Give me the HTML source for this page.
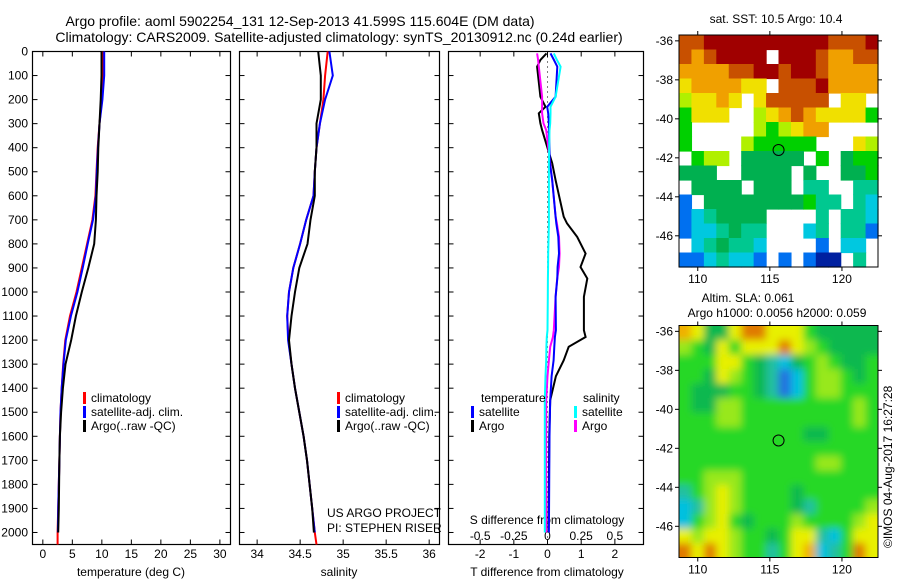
<!DOCTYPE html>
<html><head><meta charset="utf-8"><style>
html,body{margin:0;padding:0;background:#fff;}
svg{display:block;font-family:"Liberation Sans",sans-serif;}
</style></head><body>
<svg id="fig" width="900" height="580" viewBox="0 0 900 580">
<defs>
<filter id="blur" x="-10%" y="-10%" width="120%" height="120%"><feGaussianBlur stdDeviation="4"/></filter>
<clipPath id="slaClip"><rect x="679" y="325.5" width="199" height="232"/></clipPath>
</defs>
<text x="300" y="26" font-size="14" text-anchor="middle">Argo profile: aoml 5902254_131 12-Sep-2013 41.599S 115.604E (DM data)</text>
<text x="339" y="42" font-size="14" text-anchor="middle">Climatology: CARS2009. Satellite-adjusted climatology: synTS_20130912.nc (0.24d earlier)</text>
<text x="776" y="23" font-size="12" text-anchor="middle">sat. SST: 10.5 Argo: 10.4</text>
<text x="748" y="302" font-size="12" text-anchor="middle">Altim. SLA: 0.061</text>
<text x="777" y="317" font-size="12" text-anchor="middle">Argo h1000: 0.0056 h2000: 0.059</text>
<text transform="translate(892,548) rotate(-90)" font-size="12">©IMOS 04-Aug-2017 16:27:28</text>
<text x="327" y="517" font-size="12">US ARGO PROJECT</text>
<text x="327" y="532" font-size="12">PI: STEPHEN RISER</text>
<text x="547" y="524" font-size="12" text-anchor="middle">S difference from climatology</text>
</svg>
<script>
// ---------- data ----------
const depthTicks=[0,100,200,300,400,500,600,700,800,900,1000,1100,1200,1300,1400,1500,1600,1700,1800,1900,2000];
const depthStd=[0,100,200,300,400,500,600,700,800,900,1000,1100,1200,1300,1400,1500,1600,1700,1800,1900,2000,2050];
const tempClim=[10.2,10.2,10.0,9.6,9.3,9.1,8.9,8.4,7.5,6.6,5.7,4.6,3.8,3.45,3.2,3.0,2.9,2.8,2.7,2.6,2.5,2.5];
const tempSat=[10.4,10.4,10.1,9.6,9.35,9.15,9.0,8.5,7.6,6.75,5.85,4.75,3.9,3.5,3.2,3.0,2.9,2.8,2.7,2.6,2.55];
const tempArgo=[9.95,9.95,9.8,9.6,9.4,9.3,9.1,9.0,8.7,7.7,6.6,5.6,4.8,3.85,3.4,3.1,2.9,2.8,2.75,2.7,2.6];
const salClim=[34.82,34.79,34.77,34.73,34.69,34.67,34.655,34.57,34.5,34.42,34.37,34.35,34.365,34.4,34.44,34.49,34.54,34.58,34.61,34.64,34.67,34.69];
const salSat=[34.84,34.88,34.79,34.73,34.69,34.67,34.655,34.57,34.5,34.42,34.37,34.35,34.36,34.4,34.44,34.49,34.54,34.58,34.61,34.64,34.67];
const salArgo=[34.71,34.74,34.74,34.69,34.69,34.67,34.67,34.62,34.585,34.49,34.44,34.40,34.37,34.4,34.44,34.49,34.54,34.58,34.61,34.64,34.66];
const diffDepth=[8,35,63,188,230,257,299,327,465,535,687,715,771,840,896,944,1020,1159,1187,1228,1284,1350,1450,1600,1800,2000];
const tDiffArgo=[-0.03,-0.21,-0.31,-0.21,-0.06,-0.26,-0.21,-0.16,0.14,0.24,0.48,0.58,0.88,1.13,0.98,1.18,1.08,1.08,1.13,0.63,0.48,0.25,0.08,0.05,0.04,0.03];
const tDiffSat=[0.09,0.19,0.29,0.24,-0.01,0.02,0.04,0.04,0.07,0.14,0.24,0.26,0.32,0.34,0.3,0.29,0.24,0.25,0.22,0.2,0.18,0.12,0.08,0.06,0.05,0.04];
const sDiffArgo=[-0.077,-0.07,-0.065,-0.04,-0.04,-0.04,-0.03,-0.01,0.02,0.035,0.06,0.07,0.085,0.09,0.085,0.072,0.06,0.047,0.04,0.02,0.01,0.0,-0.01,-0.01,-0.01,-0.01];
const sDiffSat=[0.047,0.07,0.097,0.06,0.022,0.022,0.02,0.015,0.01,0.01,0.01,0.01,0.008,0.005,0.004,0.003,0.002,0.0,-0.005,-0.008,-0.01,-0.015,-0.02,-0.02,-0.02,-0.02];
const tTicks=[0,5,10,15,20,25,30];
const sTicks=[34,34.5,35,35.5,36];
const tdTicks=[-2,-1,0,1,2];
const sdTicks=[-0.5,-0.25,0,0.25,0.5];
const lonTicks=[110,115,120];
const latTicks=[-36,-38,-40,-42,-44,-46];
const argoLon=115.604, argoLat=-41.599;
const sstGrid=["OORRRRRRRRRROOOR","OoORRRR.RRROooOO","ooooOORRORROoooo","YooooYY.OOORoooo","yYYoY.YOOOOO.YY.","GYYY..yYoOoYYYYG","G.....yGyYoo....","G....yGGGGG...Yy",".Gyy.ggggg.G.gGG","ggg..gggg.g..ggG",".gggg.ggg.tt..tt","b.ggggggggGtt.tc","bctgggg....t.ttc","bcctgtt...ct.ttb",".ctgttc....b.cc.","bbctccb.b.bdd.t."];
const slaGrid=["oYggYOOYYYGggggg","aGgYGYYYOYaGgggg","GGGYYGgcCgGaGggG","GGgYaGgcBCGaaGgG","GgggGGgcBCGaaGGG","GggaaGGGGGGGGGaG","GGGaaGGGGGGGGGaG","GGGGGGGGGGggGGGG","GGGGGGGGGGGGGGGG","GGGGGGGGGGGaaGGG","GGaaaGGGGGGGGGGG","cGaYaGGGGgGGGGGG","CcaYaGGGGgcGGGGa","CGaYGgGGGaGGGGaY","YaYYaGGgGYYcCGYY","OYOYaGGcGYoCcGOY"];
// ---------- helpers ----------
const NS="http://www.w3.org/2000/svg";
const svg=document.getElementById('fig');
function mk(tag,attrs,parent){const e=document.createElementNS(NS,tag);for(const k in attrs)e.setAttribute(k,attrs[k]);(parent||svg).appendChild(e);return e;}
const yTop=51.5,yBot=544.5,dMax=2050;
const yD=d=>yTop+(d/dMax)*(yBot-yTop);
function lin(d0,d1,r0,r1){return v=>r0+(v-d0)/(d1-d0)*(r1-r0);}
const panels=[
 {x0:32.5,x1:230.5,name:'temperature'},
 {x0:239.5,x1:439.5,name:'salinity'},
 {x0:448.5,x1:643.5,name:'difference'}];
const xT=lin(-1.75,31.8,32.5,230.5);
const xS=lin(33.795,36.12,239.5,439.5);
const xTD=lin(-2.94,2.85,448.5,643.5);
const xSD=v=>xTD(v*4);

function panelFrame(p){
  const g=mk('g',{});
  
  
  const r=mk('rect',{x:p.x0,y:yTop,width:p.x1-p.x0,height:yBot-yTop,fill:'none',stroke:'#000','stroke-width':1.2},g);
  
  
  depthTicks.forEach(d=>{
    const y=yD(d);
    mk('line',{x1:p.x0,x2:p.x0+5,y1:y,y2:y,stroke:'#000'},g);
    mk('line',{x1:p.x1,x2:p.x1-5,y1:y,y2:y,stroke:'#000'},g);
  });
  return g;
}
panels.forEach(panelFrame);
depthTicks.forEach(d=>{
  const t=mk('text',{x:28,y:yD(d)+4,'font-size':12,'text-anchor':'end'});
  t.textContent=d;
  
  
});
function xTicks(ticks,fx,y,nm){
  ticks.forEach(v=>{
    const x=fx(v);
    mk('line',{x1:x,x2:x,y1:yTop,y2:yTop+5,stroke:'#000'});
    mk('line',{x1:x,x2:x,y1:yBot,y2:yBot-5,stroke:'#000'});
    const t=mk('text',{x:x,y:y,'font-size':12,'text-anchor':'middle'});
    t.textContent=v;
    
    
  });
}
xTicks(tTicks,xT,558,'temperature-tick-label');
xTicks(sTicks,xS,558,'salinity-tick-label');
xTicks(tdTicks,xTD,558,'t-diff-tick-label');
sdTicks.forEach(v=>{const t=mk('text',{x:xSD(v),y:540,'font-size':12,'text-anchor':'middle'});t.textContent=v;
  
  });
[[131,'temperature (deg C)','temperature-axis-title'],[339,'salinity','salinity-axis-title'],[547,'T difference from climatology','t-diff-axis-title']].forEach(a=>{
  const t=mk('text',{x:a[0],y:576,'font-size':12,'text-anchor':'middle'});t.textContent=a[1];
  
  
});
const z=mk('line',{x1:xTD(0),x2:xTD(0),y1:yTop,y2:yBot,stroke:'#000','stroke-dasharray':'1,4'});



function profile(vals,depths,fx,color,nm,w){
  const pts=vals.map((v,i)=>fx(v).toFixed(1)+','+yD(depths[i]).toFixed(1)).join(' ');
  const pl=mk('polyline',{points:pts,fill:'none',stroke:color,'stroke-width':w||2,'stroke-linejoin':'miter'});
  
  
}
profile(tempClim,depthStd,xT,'#f00','temp-climatology-line');
profile(tempSat,depthStd,xT,'#00f','temp-satellite-line');
profile(tempArgo,depthStd,xT,'#000','temp-argo-line');
profile(salClim,depthStd,xS,'#f00','sal-climatology-line');
profile(salSat,depthStd,xS,'#00f','sal-satellite-line');
profile(salArgo,depthStd,xS,'#000','sal-argo-line');
profile(tDiffArgo,diffDepth,xTD,'#000','t-diff-argo-line');
profile(sDiffArgo,diffDepth,xSD,'#f0f','s-diff-argo-line');
profile(tDiffSat,diffDepth,xTD,'#00f','t-diff-satellite-line');
profile(sDiffSat,diffDepth,xSD,'#0ff','s-diff-satellite-line');

function legendItem(x,y,color,label){
  const g=mk('g',{});
  
  
  mk('rect',{x:x,y:y-10,width:3,height:12,fill:color},g);
  const t=mk('text',{x:x+8,y:y,'font-size':12},g);t.textContent=label;
}
[83,337].forEach(x=>{
  legendItem(x,402,'#f00','climatology');
  legendItem(x,416,'#00f','satellite-adj. clim.');
  legendItem(x,430,'#000','Argo(..raw -QC)');
});
const lt=mk('text',{x:481,y:402,'font-size':12});lt.textContent='temperature';


const ls=mk('text',{x:583,y:402,'font-size':12});ls.textContent='salinity';


legendItem(471,416,'#00f','satellite');
legendItem(471,430,'#000','Argo');
legendItem(574,416,'#0ff','satellite');
legendItem(574,430,'#f0f','Argo');

// ---------- maps ----------
const mapX0=679,mapX1=878;
const lonF=lin(108.7,122.5,mapX0,mapX1);
const sstCol={R:'#a00000',O:'#c85000',o:'#f0a000',Y:'#f0e000',y:'#b0f000',G:'#00d000',g:'#00b050',t:'#00c890',c:'#00c8e0',b:'#0070f0',d:'#0020a0'};
const slaCol={G:'#28d828',g:'#10b850',a:'#98e81a',Y:'#e8f000',o:'#f0b000',O:'#e07a00',c:'#20c0a0',C:'#00c0e0',B:'#2070e0'};
function drawMap(grid,cols,y0,y1,lat0,lat1,nm,smooth){
  const latF=lin(lat0,lat1,y0,y1);
  const g=mk('g',{});
  
  
  let cg=g;
  if(smooth){
    const clip=mk('g',{'clip-path':'url(#slaClip)'},g);
    mk('rect',{x:mapX0,y:y0,width:mapX1-mapX0,height:y1-y0,fill:cols.G},clip);
    cg=mk('g',{filter:'url(#blur)'},clip);
  }
  const nr=grid.length,nc=grid[0].length;
  const cw=(mapX1-mapX0)/nc,ch=(y1-y0)/nr;
  const pad=smooth?12:0;
  grid.forEach((row,r)=>{
    for(let c=0;c<nc;c++){
      const k=row[c];if(k==='.')continue;
      let x=mapX0+c*cw,y=y0+r*ch,w=cw+0.6,h=ch+0.6;
      if(smooth){if(c===0){x-=pad;w+=pad;} if(c===nc-1){w+=pad;} if(r===0){y-=pad;h+=pad;} if(r===nr-1){h+=pad;}}
      const cell=mk('rect',{x:x.toFixed(2),y:y.toFixed(2),width:w.toFixed(2),height:h.toFixed(2),fill:cols[k]},cg);
      
      
    }
  });
  const fr=mk('rect',{x:mapX0,y:y0,width:mapX1-mapX0,height:y1-y0,fill:'none',stroke:'#000','stroke-width':1},g);
  
  
  latTicks.forEach(v=>{
    const y=latF(v);
    mk('line',{x1:mapX0-4,x2:mapX0,y1:y,y2:y,stroke:'#000'},g);
    mk('line',{x1:mapX1,x2:mapX1+4,y1:y,y2:y,stroke:'#000'},g);
    const t=mk('text',{x:mapX0-6,y:y+4,'font-size':12,'text-anchor':'end'},g);t.textContent=v;
    
    
  });
  lonTicks.forEach(v=>{
    const x=lonF(v);
    mk('line',{x1:x,x2:x,y1:y0-4,y2:y0,stroke:'#000'},g);
    mk('line',{x1:x,x2:x,y1:y1,y2:y1+4,stroke:'#000'},g);
    const t=mk('text',{x:x,y:y1+16,'font-size':12,'text-anchor':'middle'},g);t.textContent=v;
    
    
  });
  const ci=mk('circle',{cx:lonF(argoLon),cy:latF(argoLat),r:5.5,fill:'none',stroke:'#000','stroke-width':1},g);
  
  
}
drawMap(sstGrid,sstCol,35,267,-35.7,-47.6,'sst-map',false);
drawMap(slaGrid,slaCol,325.5,557.5,-35.7,-47.6,'sla-map',true);
</script>
</body></html>
